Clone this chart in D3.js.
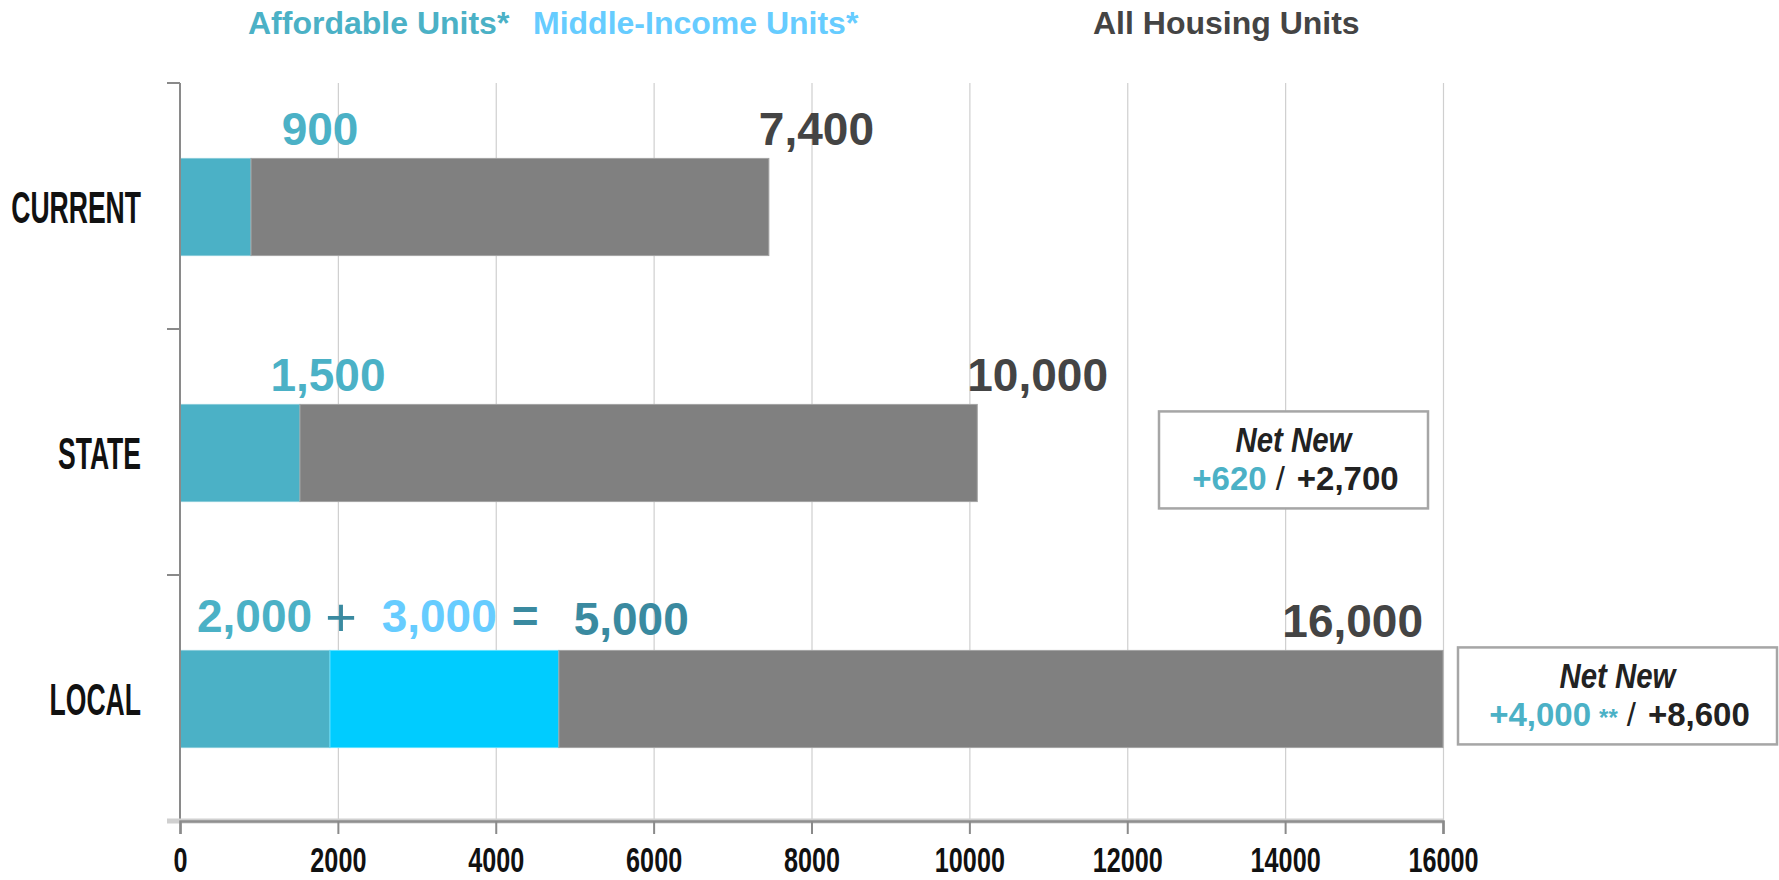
<!DOCTYPE html>
<html lang="en">
<head>
<meta charset="utf-8"/>
<title>Housing Units</title>
<script src="https://d3js.org/d3.v7.min.js"></script>
<style>
  body { margin: 0; background: #fff; }
  text { font-family: "Liberation Sans", Arial, Helvetica, sans-serif; }
</style>
</head>
<body>
<div id="chart"></div>
<script>
// values
var categories = ["CURRENT", "STATE", "LOCAL"];
var affordable = [900, 1520, 1900];
var middleIncome = [0, 0, 2900];
var allUnits = [7460, 10100, 16000];

// printed labels
var affordableLabels = ["900", "1,500", "2,000"];
var middleLabels = ["", "", "3,000"];
var allLabels = ["7,400", "10,000", "16,000"];
var sumLabel = "5,000";

var netRows = ["STATE", "LOCAL"];
var netAffordable = ["+620", "+4,000"];
var netAll = ["+2,700", "+8,600"];
var netFootnote = ["", "**"];

var xTicks = [0, 2000, 4000, 6000, 8000, 10000, 12000, 14000, 16000];
var legendNames = ["Affordable Units*", "Middle-Income Units*", "All Housing Units"];

// sizes (note: "top" is taken by window.top, so plot edges get their own names)
var w = 1779, h = 880;
var plotLeft = 180, plotRight = 1443, plotTop = 83, plotBottom = 821;

var cAff = "#4bb1c6", cMid = "#00ccff", cAll = "#808080";
var cMidText = "#66ccff", cSum = "#3a8aa0", cDark = "#444444";

var svg = d3.select("#chart").append("svg")
    .attr("width", w)
    .attr("height", h);

var x = d3.scaleLinear().domain([0, 16000]).range([plotLeft, plotRight]);
var y = d3.scaleBand().domain(categories).range([plotTop, plotBottom]).padding(0);
var barH = y.bandwidth() * 0.395;
var barY = function(c) { return y(c) + (y.bandwidth() - barH) / 2 + 1; };

// legend
var legendX = [248, 533, 1093];
var legendCol = [cAff, cMidText, cDark];
svg.selectAll("text.legend")
    .data(legendNames)
    .enter().append("text")
    .attr("class", "legend")
    .attr("x", function(d, i) { return legendX[i]; })
    .attr("y", 34)
    .attr("font-size", 32)
    .attr("font-weight", "bold")
    .attr("fill", function(d, i) { return legendCol[i]; })
    .text(function(d) { return d; });

// vertical gridlines
svg.append("g")
    .attr("transform", "translate(0," + plotBottom + ")")
    .call(d3.axisBottom(x).tickValues(xTicks.slice(1)).tickSize(-(plotBottom - plotTop)).tickFormat(""))
    .call(function(g) { g.select(".domain").remove(); })
    .call(function(g) { g.selectAll("line").attr("stroke", "#cfcfcf").attr("stroke-width", 1.2); });

// stacked bars
var rows = categories.map(function(c, i) {
    return { cat: c, affordable: affordable[i], middle: middleIncome[i],
             rest: allUnits[i] - affordable[i] - middleIncome[i] };
});
var keys = ["affordable", "middle", "rest"];
var colour = d3.scaleOrdinal().domain(keys).range([cAff, cMid, cAll]);
var edge = d3.scaleOrdinal().domain(keys).range(["#86cbd9", "#5ee0ff", "#a3a3a3"]);
var series = d3.stack().keys(keys)(rows);

svg.selectAll("g.layer")
    .data(series)
    .enter().append("g")
    .attr("class", "layer")
    .attr("fill", function(d) { return colour(d.key); })
    .attr("stroke", function(d) { return edge(d.key); })
    .selectAll("rect")
    .data(function(d) { return d.filter(function(p) { return p[1] > p[0]; }); })
    .enter().append("rect")
    .attr("x", function(d) { return x(d[0]); })
    .attr("y", function(d) { return barY(d.data.cat); })
    .attr("width", function(d) { return x(d[1]) - x(d[0]); })
    .attr("height", barH)
    .attr("stroke-width", 1);

// left axis with ticks at band edges
var yEdges = categories.map(function(c) { return y(c); }).concat([plotBottom]);
svg.append("line")
    .attr("x1", plotLeft).attr("x2", plotLeft)
    .attr("y1", plotTop).attr("y2", plotBottom)
    .attr("stroke", "#8a8a8a").attr("stroke-width", 2);
svg.selectAll("line.ytick")
    .data(yEdges)
    .enter().append("line")
    .attr("class", "ytick")
    .attr("x1", plotLeft - 13).attr("x2", plotLeft)
    .attr("y1", function(d) { return d; }).attr("y2", function(d) { return d; })
    .attr("stroke", "#8a8a8a").attr("stroke-width", 2);

// category labels (condensed)
svg.selectAll("g.cat")
    .data(categories)
    .enter().append("g")
    .attr("class", "cat")
    .attr("transform", function(d) {
        return "translate(141," + (y(d) + y.bandwidth() / 2 + 17) + ") scale(0.59,1)";
    })
    .append("text")
    .attr("text-anchor", "end")
    .attr("font-size", 45)
    .attr("font-weight", "bold")
    .attr("fill", "#111")
    .text(function(d) { return d; });

// bottom axis
svg.append("line")
    .attr("x1", plotLeft - 13).attr("x2", plotRight)
    .attr("y1", plotBottom).attr("y2", plotBottom)
    .attr("stroke", "#d0d0d0").attr("stroke-width", 5);
var xAxis = svg.append("g")
    .attr("transform", "translate(0," + plotBottom + ")")
    .call(d3.axisBottom(x).tickValues(xTicks).tickSize(13).tickFormat(d3.format("d")));
xAxis.select(".domain")
    .attr("stroke", "#8f8f8f").attr("stroke-width", 2.5);
xAxis.selectAll(".tick line").attr("stroke", "#8a8a8a").attr("stroke-width", 2);
xAxis.selectAll(".tick text")
    .attr("y", 0).attr("dy", 0)
    .attr("transform", "translate(0,51) scale(0.7,1)")
    .attr("font-size", 36)
    .attr("font-weight", "bold")
    .attr("fill", "#111");

// value labels above bars
var valueSize = 46;
var affLabelDx = [69, 28];
categories.forEach(function(c, i) {
    var base = barY(c) - 13;
    if (middleLabels[i] === "") {
        svg.append("text")
            .attr("x", x(affordable[i]) + affLabelDx[i])
            .attr("y", base)
            .attr("text-anchor", "middle")
            .attr("font-size", valueSize)
            .attr("font-weight", "bold")
            .attr("fill", cAff)
            .text(affordableLabels[i]);
    } else {
        var t = svg.append("text")
            .attr("x", x(0) + 17)
            .attr("y", base - 5)
            .attr("font-size", valueSize)
            .attr("font-weight", "bold");
        t.append("tspan").attr("fill", cAff).text(affordableLabels[i]);
        t.append("tspan").attr("dx", 13).attr("dy", 4).attr("fill", cSum).attr("font-weight", "normal")
            .attr("font-size", 54).text("+");
        t.append("tspan").attr("dx", 25).attr("dy", -4).attr("fill", cMidText).text(middleLabels[i]);
        t.append("tspan").attr("dx", 15).attr("fill", cSum).text("=");
        t.append("tspan").attr("dx", 35).attr("dy", 3).attr("fill", cSum).text(sumLabel);
    }
    var last = i === categories.length - 1;
    svg.append("text")
        .attr("x", last ? x(allUnits[i]) - 20 : x(allUnits[i]) - 10)
        .attr("y", base)
        .attr("text-anchor", last ? "end" : "start")
        .attr("font-size", valueSize)
        .attr("font-weight", "bold")
        .attr("fill", cDark)
        .text(allLabels[i]);
});

// net new boxes
var boxW = [269, 319], boxH = 97;
netRows.forEach(function(c, i) {
    var bx = i === 0 ? x(16000) - 15 - boxW[i] : x(16000) + 15;
    var by = i === 0 ? barY(c) + 7 : barY(c) - 3;
    var cx = bx + boxW[i] / 2;
    var g = svg.append("g");
    g.append("rect")
        .attr("x", bx).attr("y", by)
        .attr("width", boxW[i]).attr("height", boxH)
        .attr("fill", "#fff")
        .attr("stroke", "#a6a6a6")
        .attr("stroke-width", 2.5);
    g.append("g")
        .attr("transform", "translate(" + cx + "," + (by + 41) + ") scale(0.84,1)")
        .append("text")
        .attr("text-anchor", "middle")
        .attr("font-size", 35)
        .attr("font-weight", "bold")
        .attr("font-style", "italic")
        .attr("fill", "#222")
        .text("Net New");
    var t = g.append("text")
        .attr("x", cx + 2)
        .attr("y", by + 79)
        .attr("text-anchor", "middle")
        .attr("font-size", 33)
        .attr("font-weight", "bold");
    t.append("tspan").attr("fill", cAff).text(netAffordable[i]);
    if (netFootnote[i]) {
        t.append("tspan").attr("dx", 8).attr("font-size", 24).attr("fill", cAff).text(netFootnote[i]);
    }
    t.append("tspan").attr("dx", 9).attr("fill", "#222").attr("font-weight", "normal").text("/");
    t.append("tspan").attr("dx", 12).attr("fill", "#222").text(netAll[i]);
});
</script>
</body>
</html>
